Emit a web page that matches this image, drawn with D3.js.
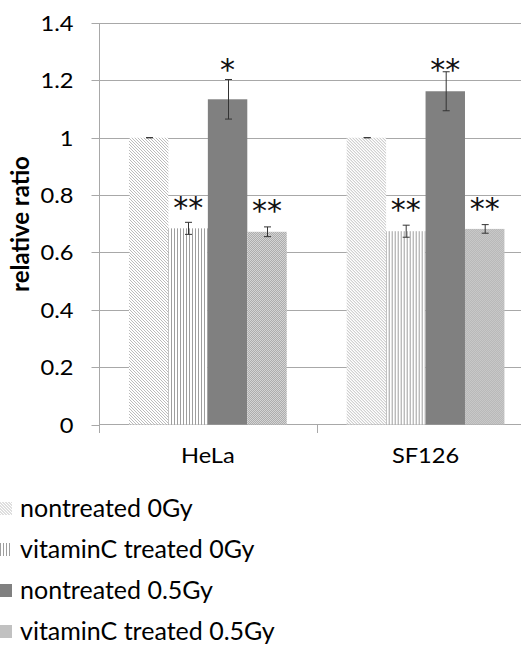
<!DOCTYPE html>
<html><head><meta charset="utf-8">
<script src="https://cdn.jsdelivr.net/npm/d3@7"></script>
<style>
html,body{margin:0;padding:0;background:#fff;}
svg{display:block;font-family:Lato, "Open Sans", sans-serif;}
</style></head>
<body>
<script>
// ---- data ----
const categories = ["HeLa", "SF126"];
const seriesNames = ["nontreated 0Gy", "vitaminC treated 0Gy", "nontreated 0.5Gy", "vitaminC treated 0.5Gy"];
const valuesHeLa = [1.00, 0.684, 1.134, 0.672];
const valuesSF126 = [1.00, 0.674, 1.162, 0.682];
const errorsHeLa = [0.0, 0.021, 0.069, 0.017];
const errorsSF126 = [0.0, 0.021, 0.068, 0.015];
const starsHeLa = ["", "**", "*", "**"];
const starsSF126 = ["", "**", "**", "**"];
const starLevelHeLa = [null, 0.775, 1.257, 0.766];
const starLevelSF126 = [null, 0.768, 1.256, 0.773];
const yTicks = [0, 0.2, 0.4, 0.6, 0.8, 1, 1.2, 1.4];
const yLabel = "relative ratio";

const table = categories.map((c, ci) => ({
  cat: c,
  vals: [valuesHeLa, valuesSF126][ci],
  errs: [errorsHeLa, errorsSF126][ci],
  stars: [starsHeLa, starsSF126][ci],
  starLv: [starLevelHeLa, starLevelSF126][ci]
}));

const W = 521, H = 646;
const svg = d3.select("body").append("svg").attr("width", W).attr("height", H);
const defs = svg.append("defs");

// patterns
const p1 = defs.append("pattern").attr("id", "pDiag").attr("patternUnits", "userSpaceOnUse").attr("width", 3).attr("height", 3);
p1.append("rect").attr("width", 3).attr("height", 3).attr("fill", "#fff");
p1.append("path").attr("d", "M-1,-1L4,4M-1,2L1,4M2,-1L4,1").attr("stroke", "#b4b4b4").attr("stroke-width", 0.9);
const p2 = defs.append("pattern").attr("id", "pVert").attr("patternUnits", "userSpaceOnUse").attr("width", 3).attr("height", 3);
p2.append("rect").attr("width", 3).attr("height", 3).attr("fill", "#fff");
p2.append("rect").attr("x", 0).attr("width", 1).attr("height", 3).attr("fill", "#9e9e9e");
const p4 = defs.append("pattern").attr("id", "pDot").attr("patternUnits", "userSpaceOnUse").attr("width", 2).attr("height", 2);
p4.append("rect").attr("width", 2).attr("height", 2).attr("fill", "#d4d4d4");
p4.append("rect").attr("width", 1).attr("height", 1).attr("fill", "#adadad");
p4.append("rect").attr("x", 1).attr("y", 1).attr("width", 1).attr("height", 1).attr("fill", "#adadad");
const fills = ["url(#pDiag)", "url(#pVert)", "#808080", "url(#pDot)"];

// scales
const x0 = d3.scaleBand().domain(categories).range([99, 534.4]).paddingInner(0).paddingOuter(0);
const x1 = d3.scaleBand().domain(d3.range(seriesNames.length)).range([0, x0.bandwidth()]).paddingInner(0).paddingOuter(0.76);
const y = d3.scaleLinear().domain([0, 1.4]).range([424.5, 23]);

const gridColor = "#a8a8a8";

// gridlines
svg.append("g").selectAll("line").data(yTicks.filter(d => d > 0)).join("line")
  .attr("x1", 99).attr("x2", 534.4)
  .attr("y1", d => Math.round(y(d)) + 0.5).attr("y2", d => Math.round(y(d)) + 0.5)
  .attr("stroke", gridColor).attr("stroke-width", 1);

// y axis
const yAxis = d3.axisLeft(y).tickValues(yTicks).tickFormat(d3.format("~g")).tickSize(8).tickPadding(18);
const gy = svg.append("g").attr("transform", "translate(99.5,0)").call(yAxis);
gy.select(".domain").attr("stroke", gridColor).attr("d", "M0," + y(1.4) + "V433");
gy.selectAll(".tick line").attr("stroke", gridColor);
gy.selectAll(".tick").attr("transform", d => "translate(0," + (Math.round(y(d)) + 0.5) + ")");
gy.selectAll(".tick text").attr("fill", "#000").style("font-size", "21.5px").style("font-family", "Lato")
  .attr("dy", "0.36em")
  .each(function () { const w = this.getComputedTextLength(); this.setAttribute("textLength", w * 1.1); this.setAttribute("lengthAdjust", "spacingAndGlyphs"); });

// x axis
const xAxis = d3.axisBottom(x0).tickSize(0).tickPadding(18);
const gx = svg.append("g").attr("transform", "translate(0,424.5)").call(xAxis);
gx.select(".domain").attr("stroke", gridColor).attr("d", "M99,0H534.4");
gx.selectAll(".tick text").attr("fill", "#000").style("font-size", "21.5px").style("font-family", "Lato")
  .attr("dy", "0.95em")
  .each(function () { const w = this.getComputedTextLength(); this.setAttribute("textLength", w * 1.1); this.setAttribute("lengthAdjust", "spacingAndGlyphs"); });
// category boundary ticks
svg.append("g").selectAll("line").data(categories.slice(1).concat(["_end"])).join("line")
  .attr("x1", d => Math.round(d === "_end" ? 534.4 : x0(d)) + 0.5)
  .attr("x2", d => Math.round(d === "_end" ? 534.4 : x0(d)) + 0.5)
  .attr("y1", 424.5).attr("y2", 433).attr("stroke", gridColor);

// bars
const groups = svg.append("g").selectAll("g").data(table).join("g")
  .attr("transform", d => "translate(" + x0(d.cat) + ",0)");
groups.selectAll("rect").data(d => d.vals.map((v, i) => ({ v, i }))).join("rect")
  .attr("x", d => x1(d.i)).attr("width", x1.bandwidth())
  .attr("y", d => y(d.v)).attr("height", d => y(0) - y(d.v))
  .attr("fill", d => fills[d.i]);

// error bars
const eb = groups.selectAll("g.err").data(d => d.vals.map((v, i) => ({ v, e: d.errs[i], i }))).join("g").attr("class", "err")
  .attr("transform", d => "translate(" + (Math.round(x1(d.i) + x1.bandwidth() / 2) + 0.5) + ",0)");
eb.append("line").attr("y1", d => y(d.v + d.e)).attr("y2", d => y(d.v - d.e)).attr("stroke", "#333").attr("stroke-width", 1);
eb.append("line").attr("x1", -3.5).attr("x2", 3.5).attr("y1", d => y(d.v + d.e)).attr("y2", d => y(d.v + d.e)).attr("stroke", "#333");
eb.append("line").attr("x1", -3.5).attr("x2", 3.5).attr("y1", d => y(d.v - d.e)).attr("y2", d => y(d.v - d.e)).attr("stroke", "#333");

// stars
groups.selectAll("text.star").data(d => d.stars.map((s, i) => ({ s, lv: d.starLv[i], i })).filter(d => d.s)).join("text")
  .attr("class", "star")
  .attr("x", d => x1(d.i) + x1.bandwidth() / 2)
  .attr("y", d => y(d.lv) + 16)
  .attr("text-anchor", "middle")
  .style("font-size", "30px").style("font-family", "'DejaVu Sans'").attr("fill", "#111")
  .text(d => d.s);

// y label
svg.append("text").attr("transform", "translate(29,224) rotate(-90)")
  .attr("text-anchor", "middle").style("font-size", "24px").style("font-weight", "bold").style("font-family", "Lato")
  .attr("fill", "#000").text(yLabel);

// legend
const leg = svg.append("g").selectAll("g").data(seriesNames).join("g")
  .attr("transform", (d, i) => "translate(0," + (508.5 + i * 41) + ")");
leg.append("rect").attr("x", 0).attr("y", -6.5).attr("width", 12).attr("height", 13).attr("fill", (d, i) => fills[i]);
leg.append("text").attr("x", 20).attr("dy", "0.34em").style("font-size", "25px").style("font-family", "Lato")
  .attr("fill", "#000").text(d => d);
</script>
</body></html>
